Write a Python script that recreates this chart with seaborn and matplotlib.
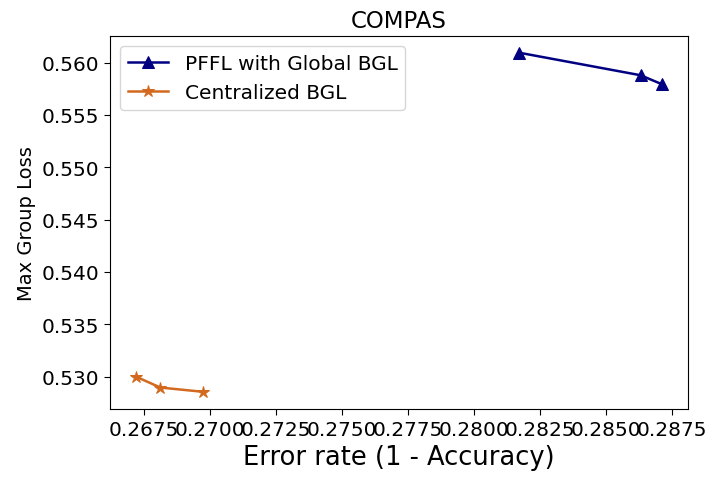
import numpy as np
import pandas as pd
import matplotlib
matplotlib.use("Agg")
import matplotlib.pyplot as plt
import seaborn as sns

# -------------------
# Data
pffl_err = [0.28169, 0.28630, 0.28710]
pffl_loss = [0.56095, 0.55879, 0.55794]
cent_err = [0.26721, 0.26812, 0.26974]
cent_loss = [0.52998, 0.52896, 0.52855]

# plain matplotlib look, like the reference
plt.rcParams.update(matplotlib.rcParamsDefault)
plt.rcParams['font.family'] = ['DejaVu Sans']

fig, ax = plt.subplots(figsize=(7.1, 4.89), dpi=100)
sns.lineplot(x=pffl_err, y=pffl_loss, marker='^', markersize=9, linewidth=1.8,
             color='navy', markeredgecolor='navy', label='PFFL with Global BGL',
             ax=ax, sort=False)
sns.lineplot(x=cent_err, y=cent_loss, marker='*', markersize=9, linewidth=1.8,
             color='#D2691E', markeredgecolor='#D2691E', label='Centralized BGL',
             ax=ax, sort=False)

ax.set_title("COMPAS", fontsize=16.5)
ax.set_xlabel("Error rate (1 - Accuracy)", fontsize=18.5)
ax.set_ylabel("Max Group Loss", fontsize=14)
ax.set_xticks(np.arange(0.2675, 0.2876, 0.0025))
ax.xaxis.set_major_formatter(matplotlib.ticker.FormatStrFormatter('%.4f'))
ax.set_yticks(np.arange(0.530, 0.5601, 0.005))
ax.yaxis.set_major_formatter(matplotlib.ticker.FormatStrFormatter('%.3f'))
ax.tick_params(labelsize=14.5, length=4.5)
ax.legend(loc='upper left', fontsize=14.5)

plt.subplots_adjust(left=0.155, right=0.969, top=0.925, bottom=0.162)
plt.savefig("out.png", dpi=100)
